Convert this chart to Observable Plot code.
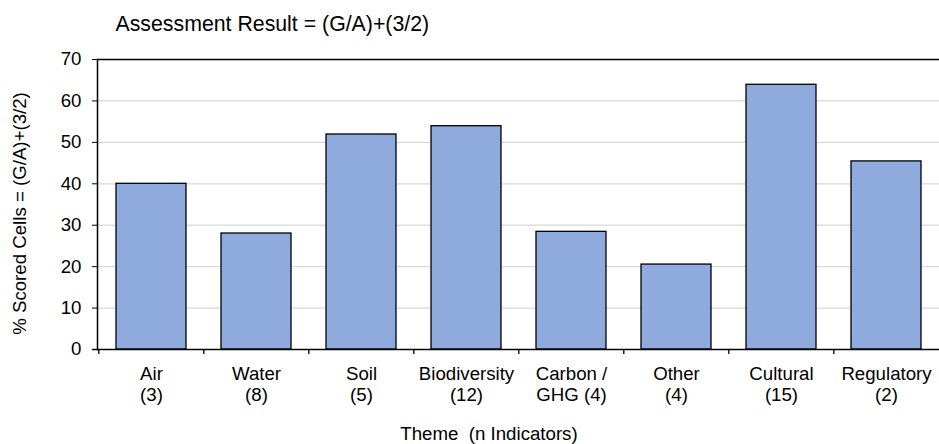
<!DOCTYPE html>
<html><head><meta charset="utf-8">
<script src="https://cdn.jsdelivr.net/npm/d3@7"></script>
<script src="https://cdn.jsdelivr.net/npm/@observablehq/plot@0.6"></script>
<style>
body{margin:0;background:#fff}
svg{font-family:"Liberation Sans",Arial,sans-serif}
svg text{white-space:pre}
</style>
</head><body><div id="chart"></div>
<script>
const themes = ["Air","Water","Soil","Biodiversity","Carbon / GHG","Other","Cultural","Regulatory"];
const indicatorCounts = [3,8,5,12,4,4,15,2];
const scoredPct = [40.0, 28.0, 51.9, 53.9, 28.4, 20.5, 63.9, 45.4];
const tickLabels = ["Air\n(3)","Water\n(8)","Soil\n(5)","Biodiversity\n(12)","Carbon /\nGHG (4)","Other\n(4)","Cultural\n(15)","Regulatory\n(2)"];
const yTicks = [0,10,20,30,40,50,60,70];
const gridTicks = [10,20,30,40,50,60];
const chartTitle = "Assessment Result = (G/A)+(3/2)";
const yTitle = "% Scored Cells = (G/A)+(3/2)";
const xTitle = "Theme  (n Indicators)";

const data = themes.map((t,i)=>({theme:t, n:indicatorCounts[i], value:scoredPct[i]}));

const W = 939, H = 444, mL = 97, mR = -1, mT = 59, mB = 95;
const step = (W - mL - mR) / themes.length;
const fs = 18.67;

const chart = Plot.plot({
  width: W, height: H,
  marginLeft: mL, marginRight: mR, marginTop: mT, marginBottom: mB,
  style: {fontFamily: '"Liberation Sans", Arial, sans-serif', color: "#000", background: "#fff", overflow: "visible"},
  x: {type: "band", domain: themes, paddingInner: 0.33, paddingOuter: 0.165, align: 0.5},
  y: {domain: [0, 70]},
  marks: [
    Plot.ruleY(gridTicks, {stroke: "#d9d9d9", strokeWidth: 1.2}),
    Plot.ruleY([70], {stroke: "#000", strokeWidth: 1.5}),
    Plot.barY(data, {x: "theme", y: "value", fill: "#8faadc", stroke: "#000", strokeWidth: 1.3}),
    Plot.ruleY([0], {stroke: "#000", strokeWidth: 1.5, insetLeft: -5}),
    Plot.frame({anchor: "left", stroke: "#000", strokeWidth: 1.5}),
    Plot.ruleX(themes, {x: d => d, dx: -step/2, y1: 0, y2: 0, insetBottom: -5, stroke: "#000", strokeWidth: 1.3}),
    Plot.axisY({ticks: yTicks, tickSize: 5, tickPadding: 11, fontSize: fs, label: null, stroke: "#000", fill: "#000"}),
    Plot.axisX({tickSize: 0, tickPadding: 15, fontSize: fs, lineHeight: 1.15, label: null, fill: "#000",
      tickFormat: d => tickLabels[themes.indexOf(d)]}),
    Plot.text([chartTitle], {frameAnchor: "top-left", dx: 18, dy: -35, text: d => d, textAnchor: "start", lineAnchor: "middle", fontSize: 21.3, fill: "#000"}),
    Plot.text([yTitle], {frameAnchor: "left", dx: -77, dy: 9, text: d => d, rotate: -90, textAnchor: "middle", lineAnchor: "middle", fontSize: fs, fill: "#000"}),
    Plot.text([xTitle], {frameAnchor: "bottom", dx: -30, dy: 85, text: d => d, textAnchor: "middle", lineAnchor: "middle", fontSize: fs, fill: "#000"})
  ]
});
document.getElementById("chart").appendChild(chart);
</script>
</body></html>
